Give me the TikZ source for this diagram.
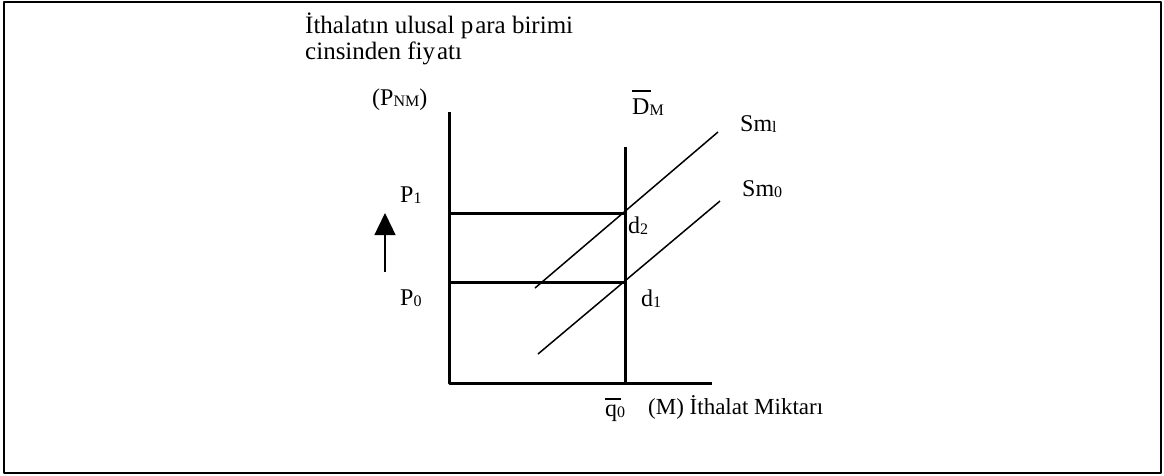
\documentclass[tikz,border=0pt]{standalone}
\usepackage{fontspec}
\setmainfont{Liberation Serif}
\usetikzlibrary{arrows.meta}
\newcommand{\lowsub}[1]{\raisebox{-1pt}{\fontsize{16}{16}\selectfont #1}}
\newcommand{\barover}[3]{\makebox[0pt][l]{\rule[#3]{#2}{1.6pt}}#1}
\begin{document}
\begin{tikzpicture}[x=1pt,y=-1pt,line join=round,font=\fontsize{24}{28}\selectfont,
	axisline/.style={line width=3pt},
	supply/.style={line width=1.5pt},
	lbl/.style={anchor=base west,inner sep=0pt},
	title/.style={lbl,font=\fontsize{25}{29}\selectfont}]
	\useasboundingbox (0,0) rectangle (1164,475);
	\draw[line width=1.5pt] (4,2) rectangle (1161,473);
	% axes and levels
	\coordinate (ytop) at (449,112);
	\coordinate (O) at (449,383);
	\coordinate (xend) at (712,383);
	\coordinate (dtop) at (625,147);
	\coordinate (dbot) at (625,383);
	\coordinate (p1) at (449,213);
	\coordinate (d2) at (625,213);
	\coordinate (p0) at (449,282);
	\coordinate (d1) at (625,282);
	\draw[axisline] (ytop) -- (O) -- (xend);
	\draw[axisline] (dtop) -- (dbot);
	\draw[axisline] (p1) -- (d2);
	\draw[axisline] (p0) -- (d1);
	% supply curves
	\coordinate (smla) at (535,288);
	\coordinate (smlb) at (718,132);
	\coordinate (smoa) at (538,354);
	\coordinate (smob) at (720,201);
	\draw[supply] (smla) -- (smlb);
	\draw[supply] (smoa) -- (smob);
	\coordinate (upa) at (385,272);
	\coordinate (upb) at (385,213);
	\draw[line width=1.3pt,-{Triangle[width=21pt,length=22pt]}] (upa) -- (upb);
	% labels
	\node[title] (title1) at (305,33) {İthalatın ulusal p\hspace{2pt}ara birimi};
	\node[title] (title2) at (305,59) {cinsinden fiy\hspace{2pt}atı};
	\node[lbl] (pnm) at (372,105) {(P\lowsub{NM})};
	\node[lbl] (lp1) at (400,202) {P\lowsub{1}};
	\node[lbl] (lp0) at (400,305) {P\lowsub{0}};
	\node[lbl] (ld2) at (628,233) {d\lowsub{2}};
	\node[lbl] (ld1) at (641,306) {d\lowsub{1}};
	\node[lbl] (lsm1) at (740,131) {Sm\lowsub{l}};
	\node[lbl] (lsm0) at (742,196) {Sm\lowsub{0}};
	\node[lbl] (ldm) at (632,114) {\barover{D}{19pt}{22pt}\lowsub{M}};
	\node[lbl] (lq0) at (605,416) {\barover{q}{16pt}{16pt}\lowsub{0}};
	\node[lbl,font=\fontsize{23}{27}\selectfont] (lm) at (648,414) {(M) İthalat Miktarı};
\end{tikzpicture}
\end{document}
